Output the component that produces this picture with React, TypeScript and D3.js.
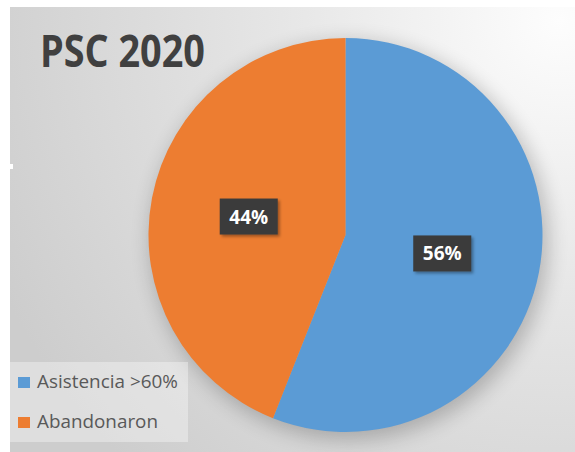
import React from "react";
import * as d3 from "d3";

const title = "PSC 2020";
const categories = ["Asistencia >60%", "Abandonaron"];
const values = [56, 44];
const colors = ["#5b9bd5", "#ed7d31"];
const legendWidths = [141, 121];

export default function App() {
  const W = 575, H = 452;
  const cx = 345.5, cy = 235, r = 197;
  const pie = d3.pie<number>().sort(null).value((d) => d)(values);
  const arc = d3.arc<d3.PieArcDatum<number>>().innerRadius(0).outerRadius(r);
  const labelArc = d3.arc<d3.PieArcDatum<number>>().innerRadius(r * 0.5).outerRadius(r * 0.5);
  const total = d3.sum(values);
  return (
    <svg width={W} height={H} style={{ position: "absolute", left: 0, top: 0 }}>
      <defs>
        <radialGradient id="bg" gradientUnits="userSpaceOnUse" cx={560} cy={20} r={620}>
          <stop offset="0" stopColor="#fdfdfd" />
          <stop offset="0.45" stopColor="#e6e6e6" />
          <stop offset="1" stopColor="#cdcdcd" />
        </radialGradient>
        <filter id="sh" x="-20%" y="-20%" width="140%" height="140%">
          <feGaussianBlur stdDeviation="10" />
        </filter>
        <filter id="lsh" x="-30%" y="-30%" width="160%" height="160%">
          <feDropShadow dx="2" dy="2" stdDeviation="1.5" floodColor="#000" floodOpacity="0.35" />
        </filter>
      </defs>
      <rect x={0} y={0} width={W} height={H} fill="#ffffff" />
      <rect x={10} y={7} width={W - 10} height={H - 7} fill="url(#bg)" />
      <rect x={0} y={164} width={13} height={5} fill="#ffffff" />
      <circle cx={cx + 4} cy={cy + 6} r={r + 2} fill="#000" opacity={0.22} filter="url(#sh)" />
      <g transform={`translate(${cx},${cy})`}>
        {pie.map((d, i) => (
          <path key={i} d={arc(d) || ""} fill={colors[i]} />
        ))}
        {pie.map((d, i) => {
          const [x, y] = labelArc.centroid(d);
          const txt = `${Math.round((d.value / total) * 100)}%`;
          return (
            <g key={"l" + i} transform={`translate(${x},${y})`}>
              <rect x={-29} y={-18} width={58} height={36} fill="#3a3a3a" filter="url(#lsh)" />
              <text
                x={0}
                y={7}
                textAnchor="middle"
                fontFamily="'Open Sans', 'DejaVu Sans', sans-serif"
                fontWeight="bold"
                fontSize={19}
                fill="#ffffff"
              >
                {txt}
              </text>
            </g>
          );
        })}
      </g>
      <text
        x={40}
        y={67}
        fontFamily="'Open Sans', 'DejaVu Sans', sans-serif"
        fontWeight="bold"
        fontSize={44}
        fill="#404040"
        textLength={165}
        lengthAdjust="spacingAndGlyphs"
      >
        {title}
      </text>
      <rect x={10} y={362} width={178} height={80} fill="#ffffff" opacity={0.35} />
      {categories.map((c, i) => (
        <g key={c} transform={`translate(18,${377 + i * 40})`}>
          <rect x={0} y={0} width={12} height={11} fill={colors[i]} />
          <text
            x={19}
            y={11}
            fontFamily="'Open Sans', 'DejaVu Sans', sans-serif"
            fontSize={18}
            fill="#595959"
            textLength={legendWidths[i]}
            lengthAdjust="spacingAndGlyphs"
          >
            {c}
          </text>
        </g>
      ))}
    </svg>
  );
}
